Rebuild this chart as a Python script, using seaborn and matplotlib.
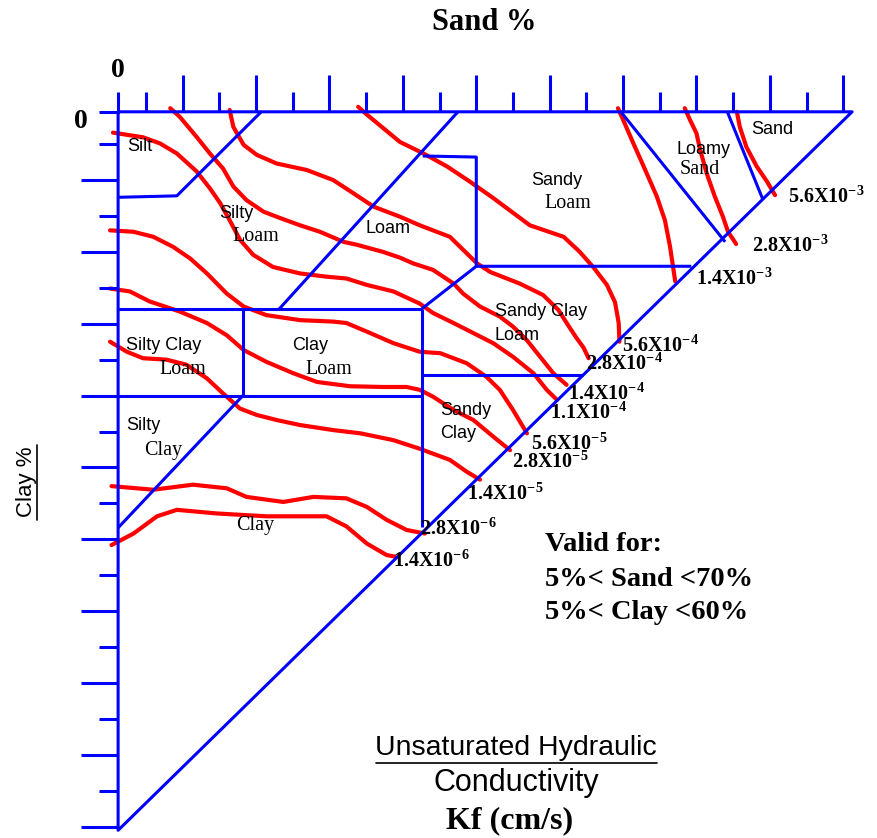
import numpy as np
import pandas as pd
import seaborn as sns
import matplotlib.pyplot as plt

# Kf isolines, in (sand %, clay %)
kf_names = ['5.6X10^{-3}', '2.8X10^{-3}', '1.4X10^{-3}', '5.6X10^{-4}', '2.8X10^{-4}',
            '1.4X10^{-4}', '1.1X10^{-4}', '5.6X10^{-5}', '2.8X10^{-5}', '1.4X10^{-5}',
            '2.8X10^{-6}', '1.4X10^{-6}']

sand_56e3 = [85.5, 85.9, 86.8, 88.2, 89.6, 90.7]
clay_56e3 = [0.5, 2.6, 5.4, 8.1, 10.2, 12.1]
sand_28e3 = [78.4, 79.1, 80.0, 80.5, 81.4, 82.5, 83.6, 84.3, 85.4]
clay_28e3 = [0.0, 1.6, 3.5, 5.8, 9.1, 12.3, 15.1, 17.2, 18.9]
sand_14e3 = [69.3, 70.0, 71.4, 72.8, 74.6, 75.7, 76.4, 77.1]
clay_14e3 = [0.0, 1.6, 4.9, 8.1, 12.3, 15.6, 19.3, 24.1]
sand_56e4 = [33.9, 35.1, 39.6, 42.8, 46.0, 49.1, 52.3, 57.3, 61.9, 64.1, 66.0, 67.8, 68.9, 69.4, 69.5]
clay_56e4 = [-0.2, 0.9, 4.7, 6.3, 8.1, 10.2, 12.5, 16.3, 17.9, 20.0, 22.2, 24.6, 27.0, 29.9, 32.5]
sand_28e4 = [16.4, 16.9, 18.3, 20.1, 22.8, 26.9, 30.5, 33.2, 36.0, 39.6, 42.3, 46.4, 47.8,
             50.1, 51.9, 55.9, 59.1, 61.2, 62.5, 63.6, 64.6, 65.3]
clay_28e4 = [0.25, 2.6, 5.1, 6.5, 7.7, 8.6, 10.0, 11.8, 13.7, 15.1, 16.3, 17.9, 19.3,
             21.6, 22.8, 24.4, 26.0, 28.1, 30.2, 31.9, 33.3, 34.8]
sand_14e4 = [8.3, 9.6, 11.9, 13.7, 15.5, 16.9, 18.7, 21.0, 23.3, 26.0, 28.7, 31.9, 33.7,
             37.3, 39.6, 41.4, 44.1, 46.9, 48.2, 50.5, 53.2, 55.0, 56.9, 58.7, 60.5, 62.3]
clay_14e4 = [0.0, 1.2, 4.0, 6.3, 8.4, 10.9, 12.8, 14.4, 15.3, 16.3, 17.2, 18.6, 19.0,
             20.0, 20.8, 21.6, 22.5, 24.4, 25.8, 27.6, 29.0, 30.4, 32.3, 34.6, 36.9, 38.5]
sand_11e4 = [0.5, 4.6, 6.9, 9.2, 11.9, 13.7, 15.1, 16.4, 17.8, 19.6, 22.3, 26.0, 29.6,
             32.3, 35.1, 38.7, 42.3, 44.1, 46.9, 49.6, 52.3, 55.0, 57.8, 59.6, 61.0]
clay_11e4 = [3.4, 4.05, 4.9, 6.3, 8.8, 11.15, 13.2, 15.6, 18.3, 20.4, 22.1, 23.0, 23.45,
             23.7, 24.6, 25.5, 27.2, 28.5, 29.9, 31.3, 32.7, 34.6, 36.9, 39.2, 40.6]
sand_56e5 = [0.1, 3.3, 6.0, 8.7, 11.0, 13.3, 16.0, 18.3, 21.4, 26.0, 30.5, 32.3, 35.1,
             38.7, 42.3, 45.1, 48.7, 51.4, 53.2, 55.0, 56.9]
clay_56e5 = [17.0, 17.2, 17.9, 19.3, 20.9, 23.0, 25.8, 27.6, 28.8, 29.5, 29.7, 29.9, 31.1,
             32.7, 33.9, 34.1, 35.5, 37.4, 39.2, 42.0, 45.25]
sand_28e5 = [0.1, 2.8, 5.5, 9.6, 13.3, 16.0, 18.3, 21.4, 25.1, 28.3, 32.8, 37.3, 40.5,
             42.3, 44.1, 46.9, 49.6, 52.3, 54.6]
clay_28e5 = [25.1, 25.5, 26.9, 28.3, 29.9, 31.6, 33.65, 35.3, 36.9, 38.1, 38.7, 38.8, 38.8,
             39.2, 40.15, 42.0, 43.4, 45.7, 47.6]
sand_14e5 = [0.1, 2.4, 4.6, 7.8, 10.5, 13.3, 15.5, 17.8, 20.1, 22.8, 26.0, 30.5, 34.2,
             38.7, 42.3, 46.4, 48.7, 50.5]
clay_14e5 = [32.5, 33.9, 34.8, 35.0, 35.7, 37.6, 39.7, 41.8, 42.7, 43.4, 44.1, 44.8, 45.25,
             46.2, 47.4, 48.95, 50.6, 51.7]
sand_28e6 = [0.3, 6.0, 11.4, 16.0, 18.7, 23.7, 27.8, 32.3, 35.1, 37.8, 40.5, 43.0]
clay_28e6 = [52.6, 53.1, 52.4, 52.9, 54.1, 54.8, 54.1, 54.3, 55.5, 57.3, 58.7, 59.2]
sand_14e6 = [0.3, 3.3, 6.5, 9.2, 14.6, 21.4, 29.6, 32.3, 35.1, 37.8, 38.9]
clay_14e6 = [60.8, 59.2, 56.8, 55.9, 56.4, 56.8, 56.8, 58.2, 60.6, 62.2, 62.4]

# where each Kf value is written (sand %, clay %)
label_sand = [92.5, 87.5, 80.0, 69.8, 65.0, 62.5, 60.0, 57.5, 54.8, 48.7, 42.3, 38.65]
label_clay = [13.2, 20.0, 24.6, 33.9, 36.4, 40.6, 43.2, 47.6, 50.1, 54.5, 59.4, 63.8]

# texture class boundaries (sand %, clay %)
triangle_sand = [1.2, 101.2, 1.2, 1.2]
triangle_clay = [0.5, 0.5, 100.5, 0.5]
silt_sand = [1.2, 9.2, 20.7]
silt_clay = [12.4, 12.2, 0.5]
loam_diag_sand = [47.5, 23.1]
loam_diag_clay = [0.5, 28.0]
loam_box_sand = [42.7, 50.0, 50.0, 79.3]
loam_box_clay = [6.65, 6.8, 22.0, 22.0]
scl_diag_sand = [50.0, 42.6]
scl_diag_clay = [22.0, 27.9]
clayloam_top_sand = [1.2, 42.6]
clayloam_top_clay = [27.9, 27.9]
sicl_split_sand = [18.2, 18.2]
sicl_split_clay = [27.9, 40.0]
clayloam_bot_sand = [1.2, 42.6]
clayloam_bot_clay = [40.0, 40.0]
sandyclay_left_sand = [42.6, 42.6]
sandyclay_left_clay = [27.9, 58.3]
sandyclay_top_sand = [42.6, 64.5]
sandyclay_top_clay = [37.2, 37.2]
siltyclay_sand = [18.2, 1.2]
siltyclay_clay = [40.0, 58.4]
loamysand_sand = [69.7, 83.9]
loamysand_clay = [0.5, 18.6]
sand_line_sand = [84.2, 89.0]
sand_line_clay = [0.5, 12.6]

boundaries = [(triangle_sand, triangle_clay), (silt_sand, silt_clay),
              (loam_diag_sand, loam_diag_clay), (loam_box_sand, loam_box_clay),
              (scl_diag_sand, scl_diag_clay), (clayloam_top_sand, clayloam_top_clay),
              (sicl_split_sand, sicl_split_clay), (clayloam_bot_sand, clayloam_bot_clay),
              (sandyclay_left_sand, sandyclay_left_clay), (sandyclay_top_sand, sandyclay_top_clay),
              (siltyclay_sand, siltyclay_clay), (loamysand_sand, loamysand_clay),
              (sand_line_sand, sand_line_clay)]

iso_sand = [sand_56e3, sand_28e3, sand_14e3, sand_56e4, sand_28e4, sand_14e4,
            sand_11e4, sand_56e5, sand_28e5, sand_14e5, sand_28e6, sand_14e6]
iso_clay = [clay_56e3, clay_28e3, clay_14e3, clay_56e4, clay_28e4, clay_14e4,
            clay_11e4, clay_56e5, clay_28e5, clay_14e5, clay_28e6, clay_14e6]

iso = pd.concat([pd.DataFrame({'sand': s, 'clay': c, 'kf': k})
                 for s, c, k in zip(iso_sand, iso_clay, kf_names)], ignore_index=True)

sns.set_theme(style='white')
plt.rcParams['font.family'] = ['Liberation Sans', 'DejaVu Sans']
plt.rcParams['text.color'] = 'black'
plt.rcParams['mathtext.fontset'] = 'custom'
plt.rcParams['mathtext.rm'] = 'Liberation Serif'
plt.rcParams['mathtext.bf'] = 'Liberation Serif:bold'
plt.rcParams['mathtext.it'] = 'Liberation Serif:italic'

fig = plt.figure(figsize=(8.78, 8.38), dpi=100)
ax = fig.add_axes([0, 0, 1, 1])

sns.lineplot(data=iso, x='sand', y='clay', units='kf', estimator=None, sort=False,
             color='#ff0000', lw=3, ax=ax, legend=False, zorder=2)

blue = '#0000ff'
for s, c in boundaries:
    ax.plot(s, c, color=blue, lw=2.2, zorder=3, solid_capstyle='butt')

# axis ticks
top_ticks = np.arange(5, 101, 5)
left_ticks = np.arange(5, 101, 5)
major = top_ticks % 10 == 0
ax.vlines(top_ticks[major], 0.5 - 5.15, 0.5, color=blue, lw=2.2)
ax.vlines(top_ticks[~major], 0.5 - 2.8, 0.5, color=blue, lw=2.2)
ax.hlines(left_ticks[major], 1.2 - 5.1, 1.2, color=blue, lw=2.2)
ax.hlines(left_ticks[~major], 1.2 - 2.6, 1.2, color=blue, lw=2.2)
ax.vlines([1.2], 0.5 - 2.8, 0.5, color=blue, lw=2.2)
ax.hlines([0.5], 1.2 - 2.6, 1.2, color=blue, lw=2.2)

# Kf labels
for name, s, c in zip(kf_names, label_sand, label_clay):
    ax.text(s, c, r'$\mathbf{' + name + '}$', fontsize=14.5, ha='left', va='baseline',
            color='black', zorder=4)

serif = 'Liberation Serif'
sans = ['Liberation Sans Narrow', 'Liberation Sans']
regions = [
    ('Silt', 4.2, 5.3, sans), ('Silty', 17.3, 14.6, sans), ('Loam', 20.0, 17.9, serif),
    ('Loam', 38.0, 16.8, sans), ('Sandy', 61.0, 10.0, sans), ('Loam', 62.4, 13.3, serif),
    ('Loamy', 81.0, 5.7, sans), ('Sand', 80.5, 8.6, serif), ('Sand', 90.3, 3.0, sans),
    ('Silty Clay', 7.45, 33.0, sans), ('Loam', 10.0, 36.3, serif),
    ('Clay', 27.4, 33.0, sans), ('Loam', 29.9, 36.3, serif),
    ('Silty', 4.7, 44.2, sans), ('Clay', 7.3, 47.7, serif),
    ('Clay', 19.9, 58.1, serif),
]
for txt, s, c, fam in regions:
    size = 14.5 if fam == serif else 13
    ax.text(s, c, txt, family=fam, fontsize=size, ha='center', va='center', zorder=4)
ax.text(52.5, 28.3, 'Sandy Clay', family=sans, fontsize=13, ha='left', va='center')
ax.text(52.5, 31.6, 'Loam', family=sans, fontsize=13, ha='left', va='center')
ax.text(45.05, 42.1, 'Sandy', family=sans, fontsize=13, ha='left', va='center')
ax.text(45.05, 45.3, 'Clay', family=sans, fontsize=13, ha='left', va='center')

# axis titles
ax.text(51.1, -11.9, 'Sand %', family=serif, weight='bold', fontsize=22, ha='center', va='center')
ax.text(1.2, -5.2, '0', family=serif, weight='bold', fontsize=20, ha='center', va='center')
ax.text(-3.9, 1.8, '0', family=serif, weight='bold', fontsize=20, ha='center', va='center')
ax.text(-11.3, 52.0, 'Clay %', fontsize=16, rotation=90, ha='center', va='center')
ax.plot([-9.85, -9.85], [46.9, 57.3], color='black', lw=1.2)

# validity note
for txt, c in [('Valid for:', 61.6), ('5%< Sand <70%', 66.5), ('5%< Clay <60%', 71.1)]:
    ax.text(59.4, c, txt, family=serif, weight='bold', fontsize=20.5, ha='left', va='baseline')

ax.text(55.4, 89.0, 'Unsaturated Hydraulic', fontsize=20.5, ha='center', va='center')
ax.plot([36.4, 74.6], [91.1, 91.1], color='black', lw=1.2)
ax.text(55.4, 93.9, 'Conductivity', fontsize=22, ha='center', va='center')
ax.text(54.5, 99.1, 'Kf (cm/s)', family=serif, weight='bold', fontsize=23, ha='center', va='center')

ax.set_xlim(-14.891, 104.728)
ax.set_ylim(101.573, -15.059)
ax.axis('off')

fig.savefig('out.png', dpi=100)
